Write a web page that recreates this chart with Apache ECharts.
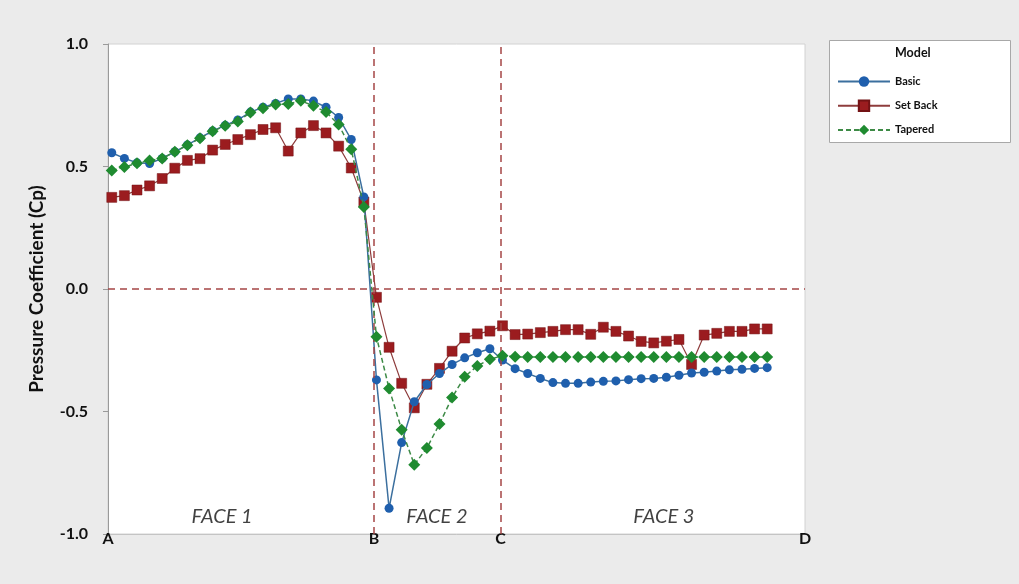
<!DOCTYPE html>
<html>
<head>
<meta charset="utf-8">
<script src="https://cdn.jsdelivr.net/npm/echarts@6/dist/echarts.min.js"></script>
<style>
html,body{margin:0;padding:0;background:#ebebeb;}
#c{width:1019px;height:584px;}
</style>
</head>
<body>
<div id="c"></div>
<script>
// ---- data (point index along the building perimeter, A -> D) ----
var basic = [0.556,0.533,0.515,0.512,0.533,0.560,0.588,0.617,0.645,0.668,0.690,0.722,0.742,0.757,0.776,0.776,0.767,0.742,0.700,0.610,0.376,
  -0.371,-0.895,-0.627,-0.460,-0.390,-0.345,-0.308,-0.281,-0.260,-0.244,
  -0.290,-0.325,-0.345,-0.365,-0.382,-0.385,-0.385,-0.380,-0.377,-0.375,-0.370,-0.366,-0.365,-0.360,-0.352,-0.343,-0.340,-0.335,-0.330,-0.328,-0.324,-0.321];
var setBack = [0.374,0.381,0.404,0.421,0.451,0.493,0.525,0.532,0.567,0.590,0.610,0.630,0.651,0.658,0.563,0.637,0.667,0.637,0.583,0.494,0.355,
  -0.034,-0.238,-0.385,-0.485,-0.389,-0.324,-0.254,-0.200,-0.183,-0.172,
  -0.150,-0.186,-0.184,-0.178,-0.173,-0.166,-0.166,-0.185,-0.156,-0.173,-0.192,-0.214,-0.220,-0.213,-0.206,-0.308,-0.188,-0.181,-0.173,-0.173,-0.163,-0.163];
var tapered = [0.484,0.498,0.513,0.524,0.533,0.560,0.587,0.615,0.644,0.666,0.684,0.720,0.738,0.753,0.755,0.768,0.748,0.722,0.671,0.570,0.335,
  -0.195,-0.406,-0.574,-0.717,-0.649,-0.551,-0.443,-0.358,-0.314,-0.287,
  -0.272,-0.277,-0.278,-0.278,-0.278,-0.278,-0.278,-0.278,-0.278,-0.278,-0.278,-0.278,-0.278,-0.278,-0.278,-0.278,-0.278,-0.278,-0.278,-0.278,-0.278,-0.278];
var seriesNames = ['Basic','Set Back','Tapered'];
var cornerLabels = ['A','B','C','D'];
var cornerPos = [-0.3, 20.8, 30.85, 55];
var faceNames = ['FACE 1','FACE 2','FACE 3'];
var facePos = [8.75, 25.8, 43.8];
var faceLevel = -0.93;

function toXY(arr){ return arr.map(function(v,i){ return [i, v]; }); }

var FONT = 'Lato, "Open Sans", sans-serif';
var chart = echarts.init(document.getElementById('c'), null, {renderer:'canvas'});
var option = {
  backgroundColor: '#ebebeb',
  animation: false,
  textStyle: {fontFamily: FONT},
  grid: {left:108, right:214, top:44, bottom:50, show:true, backgroundColor:'#ffffff', borderColor:'#d2d2d2', borderWidth:1, containLabel:false},
  title: {text:'Model', left:895, top:46, padding:0, textStyle:{fontFamily:FONT, fontSize:12.5, fontWeight:'bold', color:'#111'}},
  graphic: [{type:'rect', left:829, top:40, shape:{width:181, height:102}, style:{fill:'#fff', stroke:'#a8a8a8', lineWidth:1}, z:-1}],
  legend: {
    data: seriesNames, orient:'vertical', left:832, top:71, itemWidth:52, itemHeight:13, itemGap:12.5,
    textStyle:{fontFamily:FONT, fontSize:11, fontWeight:'bold', color:'#111'}
  },
  xAxis: {
    type:'value', min:cornerPos[0], max:cornerPos[3],
    splitLine:{show:false},
    axisLine:{show:true, onZero:false, lineStyle:{color:'#c4c4c4'}},
    axisTick:{show:false},
    axisLabel:{customValues:cornerPos, showMinLabel:true, showMaxLabel:true, margin:-3,
      fontFamily:FONT, fontSize:16, fontWeight:'bold', color:'#111',
      formatter:function(v){ var k = cornerPos.indexOf(v); return k>=0 ? cornerLabels[k] : ''; }}
  },
  yAxis: {
    type:'value', min:-1, max:1, interval:0.5,
    name:'Pressure Coefficient (Cp)', nameLocation:'middle', nameGap:62,
    nameTextStyle:{fontFamily:FONT, fontSize:19, fontWeight:'bold', color:'#111'},
    splitLine:{show:false},
    axisLine:{show:true, onZero:false, lineStyle:{color:'#9a9a9a'}},
    axisTick:{show:true, length:5, lineStyle:{color:'#9a9a9a'}},
    axisLabel:{margin:20, fontFamily:FONT, fontSize:16, fontWeight:'bold', color:'#111',
      formatter:function(v){ return v.toFixed(1); }}
  },
  series: [
    {
      name:'refLines', type:'line', data:[[0,0]], symbol:'none', lineStyle:{opacity:0}, silent:true, z:1,
      markLine:{silent:true, symbol:['none','none'], label:{show:false},
        lineStyle:{color:'#a54545', type:[7,5], width:1.5},
        data:[{xAxis:cornerPos[1]},{xAxis:cornerPos[2]},{yAxis:0}]}
    },
    {
      name:'Basic', type:'line', data:toXY(basic), z:4,
      symbol:'circle', symbolSize:9,
      itemStyle:{color:'#1f5fad'},
      lineStyle:{color:'#3b6f9e', width:1.5}
    },
    {
      name:'Set Back', type:'line', data:toXY(setBack), z:3,
      symbol:'rect', symbolSize:10,
      itemStyle:{color:'#9b1c1f', borderColor:'#731214', borderWidth:0.5},
      lineStyle:{color:'#8e3c3c', width:1.2}
    },
    {
      name:'Tapered', type:'line', data:toXY(tapered), z:5,
      symbol:'diamond', symbolSize:12,
      itemStyle:{color:'#1f8b30'},
      lineStyle:{color:'#3d8a46', width:1.5, type:[5,3]}
    },
    {
      name:'faces', type:'scatter', silent:true, symbolSize:0, z:6,
      data: faceNames.map(function(n,i){ return {name:n, value:[facePos[i], faceLevel]}; }),
      label:{show:true, position:'inside', formatter:'{b}', fontFamily:FONT, fontSize:20, fontStyle:'italic', color:'#111'}
    }
  ]
};
chart.setOption(option);
</script>
</body>
</html>
